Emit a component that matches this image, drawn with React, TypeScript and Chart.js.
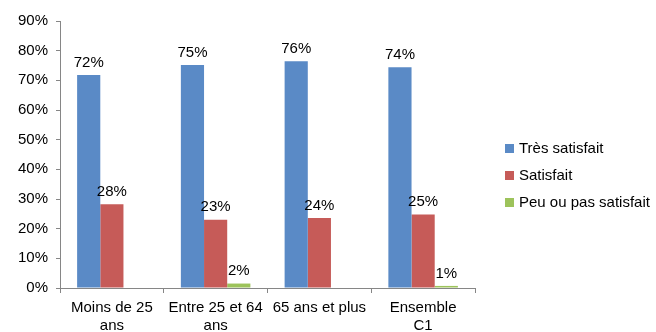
import React, { useEffect, useRef } from "react";
import { Chart, registerables } from "chart.js";

Chart.register(...registerables);

const categories: string[][] = [["Moins de 25", "ans"], ["Entre 25 et 64", "ans"], ["65 ans et plus"], ["Ensemble", "C1"]];
const seriesNames = ["Très satisfait", "Satisfait", "Peu ou pas satisfait"];
const tresSatisfait = [71.8, 75.2, 76.4, 74.4];
const satisfait = [28.2, 23.0, 23.6, 24.8];
const peuSatisfait: (number | null)[] = [null, 1.5, null, 0.7];
const colors = ["#5A8AC6", "#C65B58", "#9DC35B"];
const yMax = 90;
const yStep = 10;

const FONT = "'Liberation Sans', Arial, sans-serif";

const labelPlugin = {
  id: "valueLabels",
  afterDatasetsDraw(chart: any) {
    const ctx = chart.ctx;
    ctx.save();
    ctx.font = `15px ${FONT}`;
    ctx.fillStyle = "#000";
    ctx.textAlign = "center";
    ctx.textBaseline = "bottom";
    chart.data.datasets.forEach((ds: any, i: number) => {
      const meta = chart.getDatasetMeta(i);
      meta.data.forEach((el: any, j: number) => {
        const v = ds.data[j];
        if (v == null) return;
        ctx.fillText(Math.round(v) + "%", el.x, el.y - 5);
      });
    });
    ctx.restore();
  },
};

const legendPlugin = {
  id: "customLegend",
  afterDraw(chart: any) {
    const ctx = chart.ctx;
    const area = chart.chartArea;
    ctx.save();
    ctx.font = `15px ${FONT}`;
    ctx.textBaseline = "middle";
    ctx.textAlign = "left";
    const x0 = area.right + 30;
    const yc = (area.top + area.bottom) / 2 + 21;
    chart.data.datasets.forEach((ds: any, i: number) => {
      const y = yc + (i - 1) * 27;
      ctx.fillStyle = ds.backgroundColor;
      ctx.fillRect(x0, y - 4.5, 9, 9);
      ctx.fillStyle = "#000";
      ctx.fillText(ds.label, x0 + 14, y);
    });
    ctx.restore();
  },
};

export default function App() {
  const ref = useRef<HTMLCanvasElement>(null);
  useEffect(() => {
    if (!ref.current) return;
    const chart = new Chart(ref.current, {
      type: "bar",
      data: {
        labels: categories as any,
        datasets: [
          { label: seriesNames[0], data: tresSatisfait, backgroundColor: colors[0] },
          { label: seriesNames[1], data: satisfait, backgroundColor: colors[1] },
          { label: seriesNames[2], data: peuSatisfait as any, backgroundColor: colors[2] },
        ],
      },
      options: {
        animation: false,
        responsive: false,
        maintainAspectRatio: false,
        layout: { padding: { top: 21, right: 181, left: 0, bottom: 0 } },
        datasets: { bar: { categoryPercentage: 0.67, barPercentage: 1, grouped: true } } as any,
        plugins: { legend: { display: false }, tooltip: { enabled: false } },
        scales: {
          x: {
            grid: { display: true, drawOnChartArea: false, offset: true, tickLength: 5, color: "#868686" },
            border: { color: "#868686" },
            ticks: { font: { family: FONT, size: 15, lineHeight: 1.25 }, color: "#000", padding: 5, maxRotation: 0, autoSkip: false },
            afterFit: (s: any) => { s.height = 44; },
          },
          y: {
            min: 0,
            max: yMax,
            ticks: { stepSize: yStep, callback: (v: any) => v + "%", font: { family: FONT, size: 15 }, color: "#000", padding: 8 },
            grid: { display: true, drawOnChartArea: false, tickLength: 4, color: "#868686" },
            border: { color: "#868686" },
            afterFit: (s: any) => { s.width = 60; },
          },
        },
      },
      plugins: [labelPlugin, legendPlugin],
    });
    return () => chart.destroy();
  }, []);
  return (
    <div style={{ position: "fixed", left: 0, top: 0, width: 656, height: 332 }}>
      <canvas ref={ref} width={656} height={332} style={{ display: "block" }} />
    </div>
  );
}
